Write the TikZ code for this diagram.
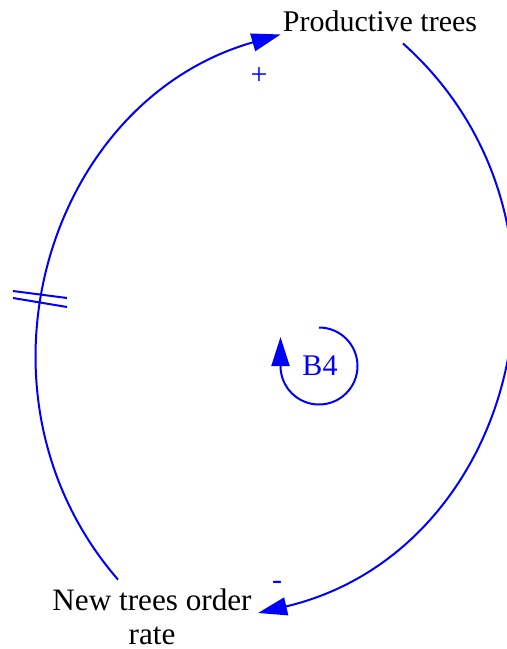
\documentclass[tikz,border=0pt]{standalone}
\usepackage{fontspec}
\setmainfont{Liberation Serif}
\usepackage{xcolor}
\usetikzlibrary{arrows.meta, positioning, calc}
\definecolor{linkblue}{RGB}{0, 0, 255}

\begin{document}
\begin{tikzpicture}[
    x=0.5pt, y=0.5pt,
    var/.style={font=\fontsize{15}{17}\selectfont, align=center, inner sep=1pt},
    link/.style={-{Triangle[length=14.5pt, width=9pt]}, line width=1pt, linkblue},
    polarity/.style={font=\fontsize{15}{17}\selectfont, text=linkblue, inner sep=0pt},
    delaymark/.style={line width=1pt, linkblue}
]
\clip (0,0) rectangle (507,-649);
% Variables
\node[var] (trees) at (380,-21.5) {Productive trees};
\node[var, font=\fontsize{15.6}{17}\selectfont] (rate) at (152,-617) {New trees order\\rate};
\node[polarity] (loop) at (320,-366) {B4};

% Links
\draw[link] ([shift={(-34,7)}]rate.north) to[bend left=57.5, looseness=1.1] (trees.south west);
\draw[link] ([shift={(23,-9)}]trees.south) to[bend left=62.5, looseness=1.16] ([shift={(4,4)}]rate.east);

% Polarities
\node[polarity] (plus) at (259,-76) {+};
\node[polarity] (minus) at (277,-585) {-};

% Delay
\draw[delaymark] (13,-291) -- (67,-298);
\draw[delaymark] (13,-298) -- (67,-307);

% Loop
\draw[link] ([shift={(-1,38.5)}]loop.center) arc[start angle=90, end angle=-180, radius=38.5] -- ++(0,29);
\end{tikzpicture}
\end{document}
